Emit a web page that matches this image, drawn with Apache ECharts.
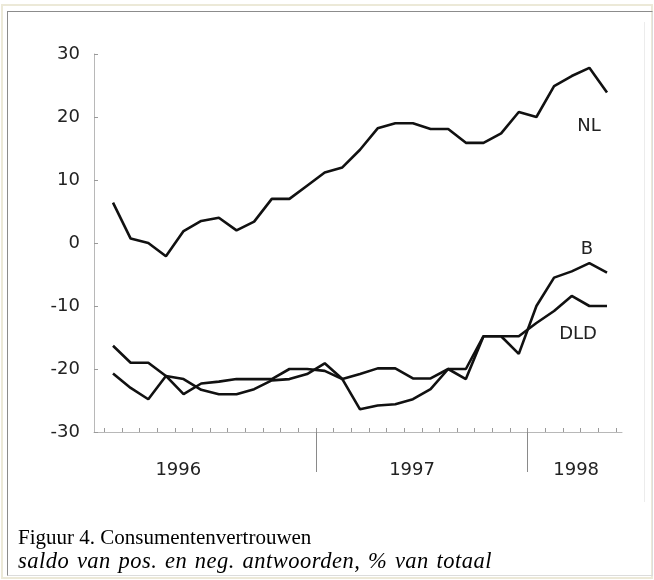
<!DOCTYPE html>
<html>
<head>
<meta charset="utf-8">
<script src="https://cdn.jsdelivr.net/npm/echarts@6/dist/echarts.min.js"></script>
<style>
  html, body { margin: 0; padding: 0; background: #fff; }
  #frame { position: absolute; left: 1px; top: 4px; width: 652px; height: 575px; border: 2px solid #ece9d8; box-sizing: border-box; }
  #inner { position: absolute; left: 7px; top: 11px; width: 646px; height: 565px; border: 1px solid #8c8c8c; border-right-color: #dcdcdc; border-bottom-color: #dcdcdc; box-sizing: border-box; }
  #rule { position: absolute; left: 644px; top: 22px; width: 1px; height: 480px; background: #ececec; }
  #chart { position: absolute; left: 0; top: 0; width: 654px; height: 580px; }
  #caption { position: absolute; left: 18px; top: 525px; font-family: 'Liberation Serif', serif; font-size: 21px; line-height: 24px; color: #000; }
  #caption .sub { font-size: 22.5px; font-style: italic; letter-spacing: 0.5px; word-spacing: 1.5px; }
</style>
</head>
<body>
<div id="frame"></div>
<div id="inner"></div>
<div id="rule"></div>
<div id="chart"></div>
<div id="caption">
  <div>Figuur 4. Consumentenvertrouwen</div>
  <div class="sub">saldo van pos. en neg. antwoorden, % van totaal</div>
</div>
<script>
// maanden jan 1996 - mei 1998
const months = [
  '1996-01', '1996-02', '1996-03', '1996-04', '1996-05', '1996-06',
  '1996-07', '1996-08', '1996-09', '1996-10', '1996-11', '1996-12',
  '1997-01', '1997-02', '1997-03', '1997-04', '1997-05', '1997-06',
  '1997-07', '1997-08', '1997-09', '1997-10', '1997-11', '1997-12',
  '1998-01', '1998-02', '1998-03', '1998-04', '1998-05'
]

const nl = [
  6.4, 0.7, 0.0, -2.1, 1.9, 3.5, 4.0, 2.0, 3.4, 7.0, 7.0, 9.1,
  11.2, 12.0, 14.8, 18.2, 19.0, 19.0, 18.1, 18.1, 15.9, 15.9, 17.4, 20.8,
  20.0, 24.9, 26.5, 27.8, 23.9
]
const b = [
  -16.3, -19.0, -19.0, -21.1, -24.0, -22.3, -22.0, -21.6, -21.6, -21.6, -20.0, -20.0,
  -20.3, -21.6, -20.8, -19.9, -19.9, -21.5, -21.5, -20.0, -21.6, -14.8, -14.8, -17.6,
  -10.0, -5.5, -4.5, -3.2, -4.7
]
const dld = [
  -20.7, -23.0, -24.8, -21.1, -21.6, -23.3, -24.0, -24.0, -23.2, -21.8, -21.6, -20.8,
  -19.1, -21.6, -26.4, -25.8, -25.6, -24.8, -23.2, -20.0, -20.0, -14.8, -14.8, -14.8,
  -12.7, -10.8, -8.4, -10.0, -10.0
]

const yearLabels = ['1996', '1997', '1998']
const yearLabelPos = [3.7, 16.95, 26.25]   // waar het jaartal staat (maand-index)
const yearBreaks = [11.5, 23.5]           // grens tussen de jaren

const monthBounds = months.map((m, i) => i - 0.5).concat([months.length - 0.5])

const chart = echarts.init(document.getElementById('chart'))

function line(name, values, offset) {
  const pts = values.map((v, i) => [i, v])
  const last = pts[pts.length - 1]
  return {
    name: name,
    type: 'line',
    data: pts,
    symbol: 'none',
    animation: false,
    lineStyle: { color: '#111', width: 2.6 },
    markPoint: {
      symbol: 'circle',
      symbolSize: 0,
      silent: true,
      data: [{ coord: last }],
      label: {
        show: true,
        formatter: name,
        offset: offset,
        color: '#222',
        fontFamily: 'DejaVu Sans',
        fontSize: 18
      }
    }
  }
}

const option = {
  animation: false,
  grid: { left: 94, right: 32, top: 54, bottom: 148 },
  xAxis: [
    {
      type: 'value',
      min: -1.077,
      max: 28.85,
      axisLine: { show: true, onZero: false, lineStyle: { color: '#b8b8b8', width: 1 } },
      axisTick: { show: true, inside: true, length: 4, customValues: monthBounds, lineStyle: { color: '#9a9a9a' } },
      axisLabel: { show: false },
      splitLine: { show: false }
    },
    {
      type: 'value',
      position: 'bottom',
      min: -1.077,
      max: 28.85,
      axisLine: { show: false, onZero: false },
      axisTick: { show: true, length: 40, customValues: yearBreaks, lineStyle: { color: '#8a8a8a' } },
      axisLabel: {
        show: true,
        customValues: yearLabelPos,
        formatter: v => yearLabels[yearLabelPos.indexOf(v)],
        margin: 29,
        color: '#222',
        fontFamily: 'DejaVu Sans',
        fontSize: 18
      },
      splitLine: { show: false }
    }
  ],
  yAxis: {
    type: 'value',
    min: -30,
    max: 30,
    interval: 10,
    axisLine: { show: true, onZero: false, lineStyle: { color: '#b8b8b8' } },
    axisTick: { show: true, inside: true, length: 4, lineStyle: { color: '#9a9a9a' } },
    axisLabel: { color: '#222', fontFamily: 'DejaVu Sans', fontSize: 18, margin: 14 },
    splitLine: { show: false }
  },
  series: [
    line('NL', nl, [-18, 34]),
    line('B', b, [-20, -23]),
    line('DLD', dld, [-29, 28])
  ]
}

chart.setOption(option)
</script>
</body>
</html>
